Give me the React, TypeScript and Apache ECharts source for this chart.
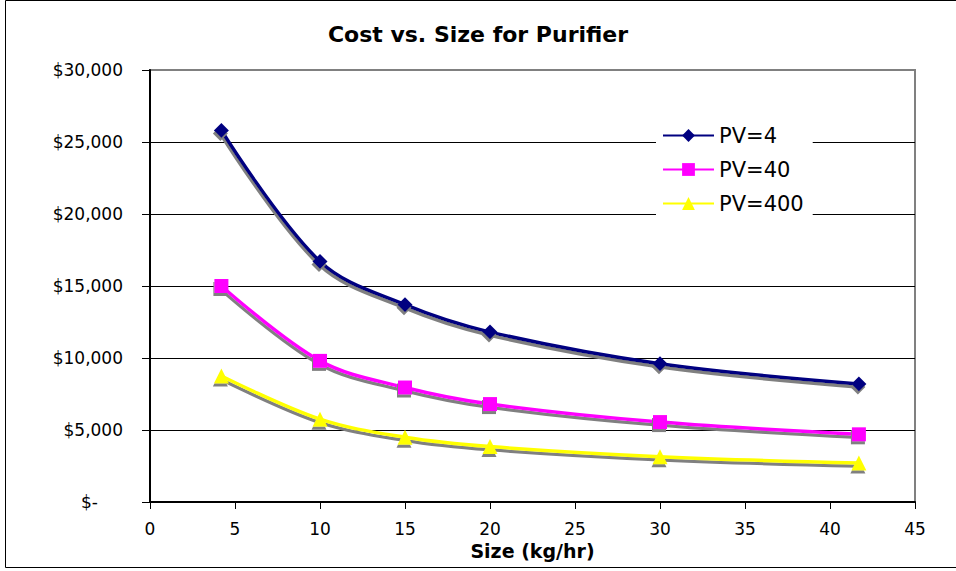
import React, { useEffect, useRef } from "react";
import * as echarts from "echarts";

const sizes = [4.2, 10, 15, 20, 30, 41.7];
const seriesNames = ["PV=4", "PV=40", "PV=400"];
const pv4 = [25800, 16700, 13700, 11800, 9600, 8200];
const pv40 = [15000, 9800, 7950, 6800, 5550, 4700];
const pv400 = [8750, 5750, 4500, 3850, 3150, 2700];
const colors = ["#000080", "#FF00FF", "#FFFF00"];
const symbols = ["diamond", "rect", "triangle"];
const symbolSizes = [15, 14, 15];

const FONT = "DejaVu Sans, Verdana, sans-serif";

export default function App() {
  const ref = useRef<HTMLDivElement>(null);
  useEffect(() => {
    document.body.style.margin = "0";
    const chart = echarts.init(ref.current!, undefined, { renderer: "svg" });
    const values = [pv4, pv40, pv400];
    const series = values.map((vals, i) => ({
      name: seriesNames[i],
      type: "line",
      smooth: 0.35,
      data: sizes.map((s, j) => [s, vals[j]]),
      symbol: symbols[i],
      symbolSize: symbolSizes[i],
      lineStyle: {
        color: colors[i],
        width: 3.5,
        shadowColor: "#808080",
        shadowBlur: 0,
        shadowOffsetX: -1,
        shadowOffsetY: 3,
      },
      itemStyle: {
        color: colors[i],
        borderWidth: 0,
        shadowColor: "#808080",
        shadowBlur: 0,
        shadowOffsetX: -1,
        shadowOffsetY: 3,
      },
      emphasis: { disabled: true },
      z: 3 - i,
    }));
    chart.setOption({
      animation: false,
      backgroundColor: "#fff",
      textStyle: { fontFamily: FONT },
      title: {
        text: "Cost vs. Size for Purifier",
        left: "center",
        top: 18,
        textStyle: { fontFamily: FONT, fontWeight: "bold", fontSize: 22, color: "#000" },
      },
      grid: {
        left: 150,
        right: 41,
        top: 70,
        bottom: 69,
        show: true,
        borderColor: "#808080",
        borderWidth: 2,
        backgroundColor: "transparent",
      },
      legend: {
        data: seriesNames,
        orient: "vertical",
        left: 656,
        top: 120,
        backgroundColor: "#fff",
        padding: [5, 9, 8, 6],
        itemWidth: 51,
        itemHeight: 16,
        itemGap: 13,
        textStyle: { fontFamily: FONT, fontSize: 21, color: "#000", lineHeight: 21 },
        itemStyle: { shadowColor: "transparent", shadowBlur: 0, shadowOffsetX: 0, shadowOffsetY: 0 },
        lineStyle: { shadowColor: "transparent", shadowBlur: 0, shadowOffsetX: 0, shadowOffsetY: 0 },
      },
      xAxis: {
        type: "value",
        min: 0,
        max: 45,
        interval: 5,
        name: "Size (kg/hr)",
        nameLocation: "middle",
        nameGap: 37,
        nameTextStyle: { fontFamily: FONT, fontWeight: "bold", fontSize: 19, color: "#000" },
        axisLine: { show: true, onZero: false, lineStyle: { color: "#000", width: 2 } },
        axisTick: { show: true, inside: false, length: 7, lineStyle: { color: "#000" } },
        axisLabel: { fontFamily: FONT, fontSize: 17, color: "#000", margin: 18 },
        splitLine: { show: false },
      },
      yAxis: {
        type: "value",
        min: 0,
        max: 30000,
        interval: 5000,
        axisLine: { show: true, lineStyle: { color: "#000", width: 2 } },
        axisTick: { show: true, inside: false, length: 8, lineStyle: { color: "#000" } },
        axisLabel: {
          fontFamily: FONT,
          fontSize: 17,
          color: "#000",
          margin: 27,
          formatter: (v: number) =>
            v === 0 ? "{z|$-}" : "$" + v.toLocaleString("en-US"),
          rich: { z: { fontFamily: FONT, fontSize: 17, color: "#000", padding: [0, 25, 0, 0] } },
        },
        splitLine: {
          show: true,
          lineStyle: { color: ["#000", "#000", "#000", "#000", "#000", "#000", "#808080"], width: 1 },
        },
      },
      graphic: [
        {
          type: "rect",
          shape: { x: 5.5, y: 0.5, width: 960, height: 567 },
          style: { fill: "none", stroke: "#000", lineWidth: 1 },
          silent: true,
          z: 0,
        },
      ],
      series,
    });
    return () => chart.dispose();
  }, []);
  return <div ref={ref} style={{ width: 956, height: 571 }} />;
}
